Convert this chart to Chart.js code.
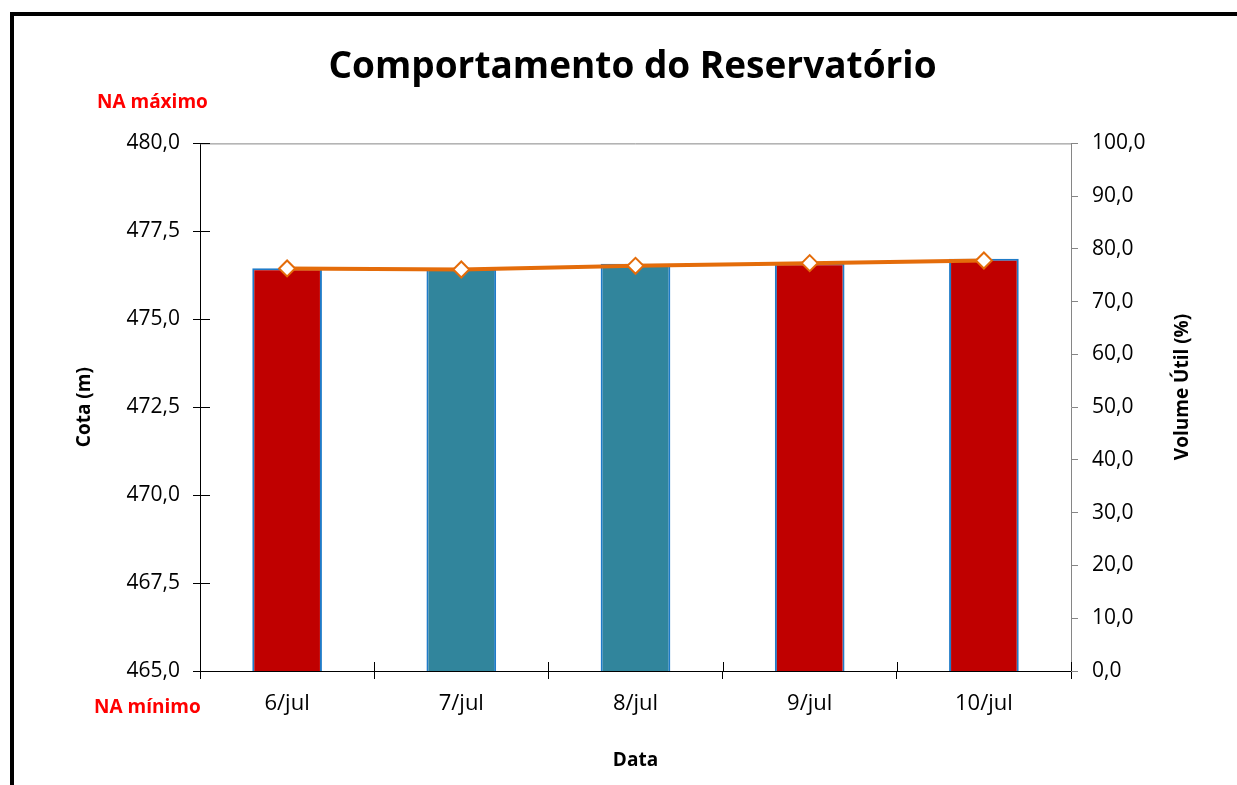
<!DOCTYPE html>
<html>
<head>
<meta charset="utf-8">
<script src="https://cdn.jsdelivr.net/npm/chart.js@4.4.1/dist/chart.umd.min.js"></script>
<style>
  html, body { margin: 0; padding: 0; background: #fff; }
  #wrap { width: 1237px; height: 785px; }
</style>
</head>
<body>
<div id="wrap"><canvas id="reservatorio"></canvas></div>
<script>
const datas = ["6/jul", "7/jul", "8/jul", "9/jul", "10/jul"];
const cota = [476.45, 476.43, 476.58, 476.59, 476.72];
const volumeUtil = [76.3, 76.1, 76.8, 77.3, 77.8];
const barColors = ["#C00000", "#31859C", "#31859C", "#C00000", "#C00000"];

const FONT = "'Open Sans', 'Noto Sans', sans-serif";

function fmt(v) {
  return v.toFixed(1).replace(".", ",");
}

// moldura, borda superior, ticks cruzados, titulo do eixo direito e rotulos NA
const extras = {
  id: "extras",
  afterDraw(chart) {
    const { ctx, chartArea: a } = chart;
    ctx.save();
    ctx.strokeStyle = "#868686";
    ctx.lineWidth = 1;
    ctx.beginPath();
    ctx.moveTo(a.left, a.top + 0.5);
    ctx.lineTo(a.right, a.top + 0.5);
    ctx.stroke();

    ctx.strokeStyle = "#000";
    ctx.beginPath();
    const yl = chart.scales.y;
    yl.ticks.forEach(t => {
      const py = Math.round(yl.getPixelForValue(t.value)) + 0.5;
      ctx.moveTo(a.left, py);
      ctx.lineTo(a.left + 10, py);
    });
    const step = (a.right - a.left) / datas.length;
    for (let i = 0; i <= datas.length; i++) {
      const px = Math.round(a.left + i * step) + 0.5;
      ctx.moveTo(px, a.bottom);
      ctx.lineTo(px, a.bottom - 9);
    }
    ctx.stroke();

    // eixo secundario: texto de baixo para cima, como no Excel
    ctx.fillStyle = "#000";
    ctx.font = "bold 19px " + FONT;
    ctx.textAlign = "center";
    ctx.textBaseline = "middle";
    ctx.translate(1183, 387);
    ctx.rotate(-Math.PI / 2);
    ctx.fillText("Volume Útil (%)", 0, 0);
    ctx.setTransform(1, 0, 0, 1, 0, 0);

    ctx.fillStyle = "#FF0000";
    ctx.font = "bold 19px " + FONT;
    ctx.textAlign = "left";
    ctx.fillText("NA máximo", 97, 103);
    ctx.fillText("NA mínimo", 94, 708);

    ctx.strokeStyle = "#000";
    ctx.lineWidth = 4;
    ctx.strokeRect(12, 14, 1300, 900);
    ctx.restore();
  }
};

new Chart(document.getElementById("reservatorio"), {
  data: {
    labels: datas,
    datasets: [
      {
        type: "line",
        label: "Volume Útil (%)",
        data: volumeUtil,
        yAxisID: "y1",
        order: 0,
        borderColor: "#E46C0A",
        borderWidth: 4,
        pointStyle: "rectRot",
        pointRadius: 8,
        pointBorderWidth: 2,
        pointBackgroundColor: "#fff",
        pointBorderColor: "#E46C0A",
        tension: 0
      },
      {
        type: "bar",
        label: "Cota (m)",
        data: cota,
        yAxisID: "y",
        order: 1,
        backgroundColor: barColors,
        borderColor: "#1F7BC8",
        borderWidth: 2,
        barPercentage: 0.4,
        categoryPercentage: 1
      }
    ]
  },
  options: {
    responsive: true,
    maintainAspectRatio: false,
    animation: false,
    layout: { padding: { left: 28 } },
    plugins: {
      legend: { display: false },
      tooltip: { enabled: false },
      title: {
        display: true,
        text: "Comportamento do Reservatório",
        color: "#000",
        font: { family: FONT, size: 37, weight: "bold" },
        padding: { top: 45, bottom: 54 }
      }
    },
    scales: {
      x: {
        afterFit(scale) { scale.height = 114; },
        grid: { drawOnChartArea: false, tickLength: 8, tickColor: "#000", offset: true },
        border: { color: "#000", width: 1 },
        ticks: { color: "#000", padding: 12, font: { family: FONT, size: 22 } },
        title: {
          display: true, text: "Data", color: "#000",
          font: { family: FONT, size: 19, weight: "bold" },
          padding: { bottom: 13 }
        }
      },
      y: {
        position: "left",
        min: 465, max: 480,
        afterFit(scale) { scale.width = 172; },
        grid: { drawOnChartArea: false, tickLength: 7, tickColor: "#000" },
        border: { color: "#000", width: 1 },
        ticks: {
          stepSize: 2.5, color: "#000", padding: 13,
          font: { family: FONT, size: 21 },
          callback: v => fmt(v)
        },
        title: {
          display: true, text: "Cota (m)", color: "#000",
          font: { family: FONT, size: 19, weight: "bold" },
          padding: { top: 45 }
        }
      },
      y1: {
        position: "right",
        min: 0, max: 100,
        afterFit(scale) { scale.width = 166; },
        grid: { drawOnChartArea: false, tickLength: 7, tickColor: "#868686" },
        border: { color: "#868686", width: 1 },
        ticks: {
          stepSize: 10, color: "#000", padding: 14,
          font: { family: FONT, size: 21 },
          callback: v => fmt(v)
        }
      }
    }
  },
  plugins: [extras]
});
</script>
</body>
</html>
